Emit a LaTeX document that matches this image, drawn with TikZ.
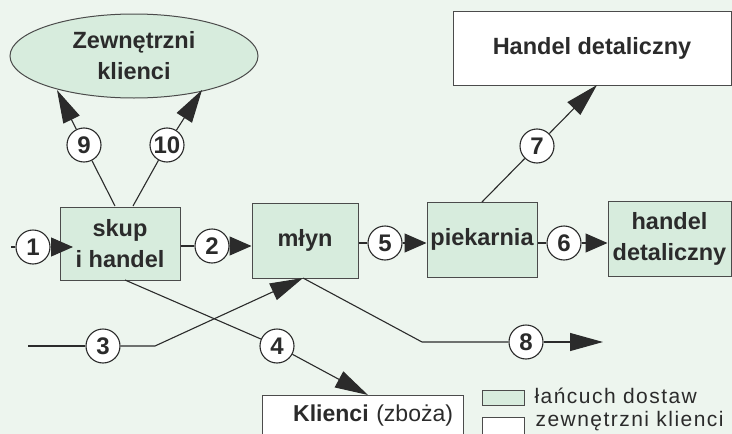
\documentclass[tikz,border=0pt]{standalone}
\usepackage{fontspec}
\setmainfont{Liberation Sans}
\newfontfamily\legendfont[LetterSpace=7]{Liberation Sans}
\usetikzlibrary{arrows.meta,shapes.geometric,positioning}
\definecolor{bgcol}{HTML}{EDF5EE}
\definecolor{boxcol}{HTML}{D7ECDD}
\definecolor{inkcol}{HTML}{2B2B2B}
\begin{document}
\begin{tikzpicture}[x=1pt, y=-1pt, color=inkcol, line width=1.1pt,
    box/.style = {draw=inkcol!85, line width=1pt, fill=boxcol, inner sep=0pt, align=center, font=\fontsize{23.5}{31}\selectfont\bfseries},
    outer/.style = {box, fill=white},
    num/.style = {draw, circle, fill=white, minimum size=34pt, inner sep=0pt, font=\fontsize{24}{24}\selectfont\bfseries},
    arr/.style = {-{Triangle[length=22pt,width=19pt]}},
    longarr/.style = {-{Triangle[length=33pt,width=18pt]}},
    leg/.style = {anchor=base west, inner sep=0pt, font=\legendfont\fontsize{21}{21}\selectfont}]
    \useasboundingbox (0,0) rectangle (732,434);
    \fill[bgcol] (0,0) rectangle (732,434);
    \clip (0,0) rectangle (732,434);

    \node[box, ellipse, minimum width=248pt, minimum height=84pt] (ext) at (134,56) {Zewnętrzni\\klienci};
    \node[outer, minimum width=278pt, minimum height=74pt] (hd1) at (592,48) {Handel detaliczny};
    \node[box, minimum width=120pt, minimum height=73pt] (skup) at (120,243.5) {skup\\i handel};
    \node[box, minimum width=106pt, minimum height=75pt] (mlyn) at (305,240.5) {młyn};
    \node[box, minimum width=110pt, minimum height=75pt] (piek) at (482,239.5) {piekarnia};
    \node[box, minimum width=123pt, minimum height=75pt] (hd2) at (669.5,238.5) {handel\\detaliczny};
    \node[outer, font=\fontsize{23}{31}\selectfont, minimum width=201pt, minimum height=42pt, text width=181pt, align=right] (kli) at (362.5,416) {\textbf{Klienci} (zboża)};

    \node[draw=inkcol!85, line width=1pt, fill=boxcol, minimum width=42pt, minimum height=15pt, inner sep=0pt] (lg1) at (503,397.5) {};
    \node[draw=inkcol!85, line width=1pt, fill=white, minimum width=42pt, minimum height=20pt, inner sep=0pt] (lg2) at (503,427) {};
    \node[leg] (lt1) at (534,403) {łańcuch dostaw};
    \node[leg] (lt2) at (535,426) {zewnętrzni klienci};

    \node[num] (n1) at (33,247) {1};
    \node[num] (n2) at (212,246) {2};
    \node[num] (n3) at (103,346) {3};
    \node[num] (n4) at (277,346) {4};
    \node[num] (n5) at (385,243) {5};
    \node[num] (n6) at (564,243) {6};
    \node[num] (n7) at (537,146) {7};
    \node[num] (n8) at (526,342) {8};
    \node[num] (n9) at (84,145) {9};
    \node[num] (n10) at (167,145) {10};

    \coordinate (a1) at (11,247);
    \coordinate (t1) at (73,247);
    \coordinate (s9) at (115,206);
    \coordinate (e9) at (57,90);
    \coordinate (s10) at (133,206);
    \coordinate (e10) at (202,90);
    \coordinate (s7) at (482,202);
    \coordinate (e7) at (597,85);
    \coordinate (a3) at (28,346);
    \coordinate (b3) at (155,346);
    \coordinate (e3) at (303,278);
    \coordinate (s4) at (125,280);
    \coordinate (e4) at (368,395);
    \coordinate (s8) at (303,278);
    \coordinate (b8) at (422,342);
    \coordinate (e8) at (603,342);

    \draw (a1) -- (n1);
    \draw[arr] (n1) -- (t1);
    \draw (n2 -| skup.east) -- (n2);
    \draw[arr] (n2) -- (n2 -| mlyn.west);
    \draw (n5 -| mlyn.east) -- (n5);
    \draw[arr] (n5) -- (n5 -| piek.west);
    \draw (n6 -| piek.east) -- (n6);
    \draw[arr] (n6) -- (n6 -| hd2.west);
    \draw (s9) -- (n9);
    \draw[longarr] (n9) -- (e9);
    \draw (s10) -- (n10);
    \draw[longarr] (n10) -- (e10);
    \draw (s7) -- (n7);
    \draw[longarr] (n7) -- (e7);
    \draw (a3) -- (n3);
    \draw[longarr] (n3) -- (b3) -- (e3);
    \draw (s4) -- (n4);
    \draw[longarr] (n4) -- (e4);
    \draw (s8) -- (b8) -- (n8);
    \draw[longarr] (n8) -- (e8);
\end{tikzpicture}
\end{document}
